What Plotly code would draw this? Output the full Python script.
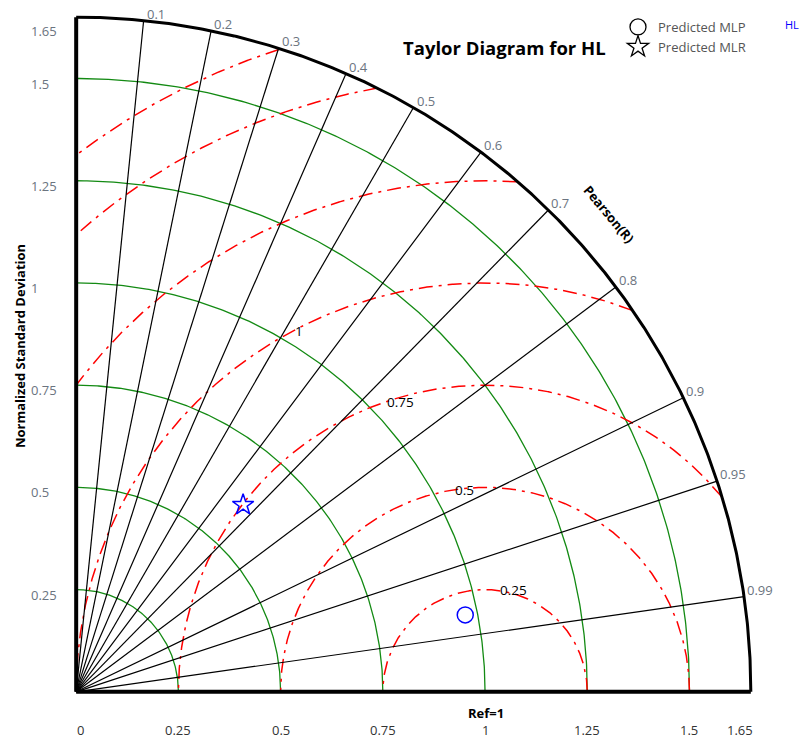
import numpy as np
import plotly.graph_objects as go

# ---------------- data ----------------
STD_MAX = 1.65
std_ticks = [0, 0.25, 0.5, 0.75, 1.0, 1.25, 1.5, 1.65]
std_tick_labels = ["0", "0.25", "0.5", "0.75", "1", "1.25", "1.5", "1.65"]
std_circles = [0.25, 0.5, 0.75, 1.0, 1.25, 1.5]
corr_ticks = [0.1, 0.2, 0.3, 0.4, 0.5, 0.6, 0.7, 0.8, 0.9, 0.95, 0.99]
corr_tick_labels = ["0.1", "0.2", "0.3", "0.4", "0.5", "0.6", "0.7", "0.8", "0.9", "0.95", "0.99"]
rms_radii = [0.25, 0.5, 0.75, 1.0, 1.25, 1.5, 1.65]
rms_label_values = [0.25, 0.5, 0.75, 1.0]
rms_label_text = ["0.25", "0.5", "0.75", "1"]
rms_label_angles_deg = [83, 99, 109, 118]
ref_std = 1.0
model_names = ["Predicted MLP", "Predicted MLR"]
model_std = [0.970, 0.613]
model_corr = [0.981, 0.666]
model_symbols = ["circle-open", "star-open"]

# ---------------- geometry of the page ----------------
W, H = 803, 740
PX = 409.0                     # pixels per unit
PAD = 0.02
X0_PX, Y0_PX = 76.0, 692.0     # pixel of origin
xr = [-PAD, STD_MAX + PAD]
yr = [-PAD, STD_MAX + PAD]
ml = X0_PX - PAD * PX
mt = Y0_PX - (STD_MAX + PAD) * PX
pw = (xr[1] - xr[0]) * PX
ph = (yr[1] - yr[0]) * PX
mr = W - ml - pw
mb = H - mt - ph

FONT = "Open Sans"
fig = go.Figure()

def add_line(x, y, color, width, dash="solid"):
    fig.add_trace(go.Scatter(x=x, y=y, mode="lines", hoverinfo="skip",
                             showlegend=False,
                             line=dict(color=color, width=width, dash=dash)))

# green std circles
t = np.linspace(0, np.pi / 2, 300)
for r in std_circles:
    add_line(r * np.cos(t), r * np.sin(t), "#138a13", 1.3)

# red RMS arcs centred at reference
tt = np.linspace(0, np.pi, 1200)
for r in rms_radii:
    x = ref_std + r * np.cos(tt)
    y = r * np.sin(tt)
    inside = (x >= -1e-9) & (np.hypot(x, y) <= STD_MAX + 1e-9)
    x = np.where(inside, x, np.nan)
    y = np.where(inside, y, np.nan)
    add_line(x, y, "red", 1.5, "14px,6px,3px,6px")

# black correlation rays
for c in corr_ticks:
    a = np.arccos(c)
    add_line([0, STD_MAX * np.cos(a)], [0, STD_MAX * np.sin(a)], "black", 1.2)

# outer frame
ta = np.linspace(0, np.pi / 2, 400)
add_line(STD_MAX * np.cos(ta), STD_MAX * np.sin(ta), "black", 3)
add_line([0, 0], [0, STD_MAX], "black", 4)
add_line([0, STD_MAX], [0, 0], "black", 4)

# model points
for name, s, c, sym in zip(model_names, model_std, model_corr, model_symbols):
    a = np.arccos(c)
    fig.add_trace(go.Scatter(x=[s * np.cos(a)], y=[s * np.sin(a)], mode="markers",
                             showlegend=False, name=name, cliponaxis=False,
                             marker=dict(symbol=sym, size=16, color="blue",
                                         line=dict(color="blue", width=1.5))))
    # legend entry (black)
    fig.add_trace(go.Scatter(x=[None], y=[None], mode="markers", name=name,
                             showlegend=True,
                             marker=dict(symbol=sym, size=16, color="black",
                                         line=dict(color="black", width=1.3))))

ann = []
def px_to_paper(px, py):
    return (px - ml) / pw, 1 - (py - mt) / ph

# correlation labels
for c, lab in zip(corr_ticks, corr_tick_labels):
    a = np.arccos(c)
    ann.append(dict(x=STD_MAX * np.cos(a), y=STD_MAX * np.sin(a), xref="x", yref="y",
                    text=lab, showarrow=False, xanchor="left", yanchor="bottom",
                    xshift=1, yshift=-4,
                    font=dict(family=FONT, size=13, color="#6b7480")))

# std tick labels: x axis
for v, lab in zip(std_ticks, std_tick_labels):
    xs = 4 if v == 0 else (-11 if v == STD_MAX else 0)
    ann.append(dict(x=v, y=0, xref="x", yref="y", text=lab, showarrow=False,
                    xanchor="center", yanchor="middle", yshift=-38, xshift=xs,
                    font=dict(family=FONT, size=13, color="#333333")))
# std tick labels: y axis
for v, lab in zip(std_ticks[1:], std_tick_labels[1:]):
    ys = -14 if v == STD_MAX else -5
    ann.append(dict(x=0, y=v, xref="x", yref="y", text=lab, showarrow=False,
                    xanchor="left", yanchor="middle", xshift=-47, yshift=ys,
                    font=dict(family=FONT, size=13, color="#6b7480")))

# RMS labels
for r, lab, ang in zip(rms_label_values, rms_label_text, rms_label_angles_deg):
    a = np.deg2rad(ang)
    ann.append(dict(x=ref_std + r * np.cos(a), y=r * np.sin(a), xref="x", yref="y",
                    text=lab, showarrow=False, xanchor="left", yanchor="middle",
                    font=dict(family=FONT, size=13.5, color="black")))

# titles
x, y = px_to_paper(504, 47)
ann.append(dict(x=x, y=y, xref="paper", yref="paper", text="<b>Taylor Diagram for HL</b>",
                showarrow=False, xanchor="center", yanchor="middle",
                font=dict(family=FONT, size=18.5, color="black")))
x, y = px_to_paper(486, 713)
ann.append(dict(x=x, y=y, xref="paper", yref="paper", text="<b>Ref=1</b>",
                showarrow=False, xanchor="center", yanchor="middle",
                font=dict(family=FONT, size=13, color="black")))
x, y = px_to_paper(609, 214)
ann.append(dict(x=x, y=y, xref="paper", yref="paper", text="<b>Pearson(R)</b>",
                showarrow=False, xanchor="center", yanchor="middle", textangle=50,
                font=dict(family=FONT, size=13, color="black")))
x, y = px_to_paper(20, 346)
ann.append(dict(x=x, y=y, xref="paper", yref="paper",
                text="<b>Normalized Standard Deviation</b>",
                showarrow=False, xanchor="center", yanchor="middle", textangle=-90,
                font=dict(family=FONT, size=13, color="black")))
x, y = px_to_paper(792, 24)
ann.append(dict(x=x, y=y, xref="paper", yref="paper", text="HL",
                showarrow=False, xanchor="center", yanchor="middle",
                font=dict(family=FONT, size=11, color="blue")))

fig.update_layout(
    width=W, height=H,
    margin=dict(l=ml, r=mr, t=mt, b=mb, pad=0, autoexpand=False),
    paper_bgcolor="white", plot_bgcolor="white",
    xaxis=dict(range=xr, visible=False, fixedrange=True),
    yaxis=dict(range=yr, visible=False, fixedrange=True),
    annotations=ann,
    showlegend=True,
    legend=dict(xref="container", yref="container", x=618 / W, y=1 - 12 / H,
                xanchor="left", yanchor="top", bgcolor="rgba(0,0,0,0)",
                font=dict(family=FONT, size=13, color="#555555"),
                itemwidth=30, tracegroupgap=0),
)

fig.write_html("out.html")
